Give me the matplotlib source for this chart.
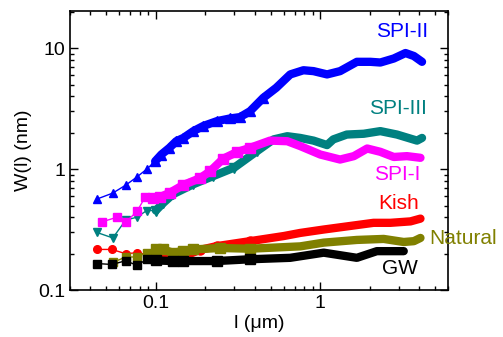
import numpy as np
import matplotlib
matplotlib.use("Agg")
import matplotlib.pyplot as plt
from matplotlib.ticker import LogLocator, NullFormatter, FixedFormatter, FixedLocator

plt.rcParams["font.family"] = ["Liberation Sans", "DejaVu Sans"]

# ---------------------------------------------------------------- data
spi2_x = [0.0437, 0.0547, 0.0656, 0.0766, 0.088, 0.099, 0.108, 0.121, 0.133, 0.147,
          0.169, 0.194, 0.235, 0.282, 0.325, 0.374, 0.45, 0.54, 0.657, 0.79,
          0.91, 1.10, 1.32, 1.67, 2.02, 2.32, 2.80, 3.30, 3.71, 4.16]
spi2_y = [0.565, 0.634, 0.738, 0.86, 1.0, 1.16, 1.32, 1.50, 1.70, 1.81,
          2.06, 2.27, 2.49, 2.62, 2.69, 3.01, 3.88, 4.70, 6.06, 6.56,
          6.45, 6.06, 6.45, 7.7, 7.7, 7.6, 8.2, 9.1, 8.6, 7.7]

spi3_x = [0.0437, 0.0547, 0.0656, 0.0766, 0.088, 0.1, 0.11, 0.127, 0.169, 0.223,
          0.30, 0.41, 0.52, 0.63, 0.755, 0.91, 1.10, 1.20, 1.45, 1.84,
          2.32, 2.93, 3.88, 4.16]
spi3_y = [0.30, 0.27, 0.38, 0.40, 0.455, 0.455, 0.52, 0.62, 0.75, 0.875,
          1.03, 1.40, 1.76, 1.87, 1.81, 1.72, 1.58, 1.76, 1.93, 1.96,
          2.06, 1.93, 1.72, 1.81]

spi1_x = [0.047, 0.058, 0.066, 0.077, 0.086, 0.096, 0.106, 0.122, 0.147, 0.185,
          0.214, 0.257, 0.31, 0.374, 0.495, 0.63, 0.755, 1.0, 1.32, 1.6,
          1.93, 2.32, 2.80, 3.37, 4.07]
spi1_y = [0.367, 0.40, 0.367, 0.45, 0.587, 0.58, 0.587, 0.64, 0.74, 0.84,
          0.96, 1.22, 1.38, 1.50, 1.72, 1.70, 1.55, 1.32, 1.20, 1.28,
          1.48, 1.39, 1.26, 1.28, 1.24]

kish_x = [0.0437, 0.054, 0.0656, 0.077, 0.088, 0.1, 0.11, 0.147, 0.185, 0.234,
          0.374, 0.60, 0.755, 1.05, 1.67, 2.11, 2.67, 3.54, 4.07]
kish_y = [0.217, 0.217, 0.20, 0.204, 0.197, 0.188, 0.186, 0.19, 0.215, 0.231,
          0.254, 0.28, 0.297, 0.317, 0.345, 0.36, 0.36, 0.37, 0.39]

nat_x = [0.055, 0.0656, 0.077, 0.088, 0.1, 0.11, 0.127, 0.147, 0.169, 0.246,
         0.374, 0.755, 1.05, 1.67, 2.43, 3.22, 3.71, 4.07]
nat_y = [0.17, 0.188, 0.188, 0.204, 0.217, 0.217, 0.204, 0.21, 0.217, 0.223,
         0.22, 0.23, 0.247, 0.26, 0.265, 0.25, 0.254, 0.27]

gw_x = [0.0437, 0.054, 0.0656, 0.077, 0.088, 0.1, 0.127, 0.147, 0.234, 0.374,
        0.656, 1.05, 1.67, 2.21, 3.22]
gw_y = [0.166, 0.163, 0.175, 0.16, 0.18, 0.176, 0.174, 0.174, 0.174, 0.18,
        0.185, 0.204, 0.185, 0.21, 0.21]

names = ["SPI-II", "SPI-III", "SPI-I", "Kish", "Natural", "GW"]
label_x = [3.16, 2.95, 2.95, 2.99, 7.34, 3.07]
label_y = [13.8, 3.19, 0.91, 0.524, 0.269, 0.152]

y_ticks = [0.1, 1, 10]
y_tick_labels = ["0.1", "1", "10"]
x_ticks = [0.1, 1]
x_tick_labels = ["0.1", "1"]

# ---------------------------------------------------------------- style
colors = ["#0000ff", "#008080", "#ff00ff", "#ff0000", "#808000", "#000000"]
markers = ["^", "v", "s", "o", "s", "s"]
DENSE_FROM = 0.1   # markers merge into a solid band beyond this l
TEXTURE_TO = 0.45  # overlapping markers still show at the band edge up to here

series = [(spi2_x, spi2_y), (spi3_x, spi3_y), (spi1_x, spi1_y),
          (kish_x, kish_y), (nat_x, nat_y), (gw_x, gw_y)]

fig = plt.figure(figsize=(5.03, 3.37), dpi=100)
ax = fig.add_axes([0.139, 0.139, 0.752, 0.828])

for (x, y), c, m in zip(series, colors, markers):
    x = np.asarray(x)
    y = np.asarray(y)
    sparse = x <= DENSE_FROM + 1e-9
    dense = x >= x[sparse].max() - 1e-9
    ax.plot(x[sparse], y[sparse], color=c, lw=1.0, marker=m, ms=5.5,
            mec=c, mfc=c, zorder=3)
    ax.plot(x[dense], y[dense], color=c, lw=6.0, solid_capstyle="round",
            solid_joinstyle="round", zorder=3)
    tex = dense & (x <= TEXTURE_TO)
    ax.plot(x[tex], y[tex], ls="none", marker=m, ms=6.5, mec=c, mfc=c,
            zorder=3)

for n, lx, ly, c in zip(names, label_x, label_y, colors):
    ax.text(lx, ly, n, color=c, fontsize=15, ha="center", va="center",
            clip_on=False)

ax.set_xscale("log")
ax.set_yscale("log")
ax.set_xlim(0.03, 6.0)
ax.set_ylim(0.1, 20.2)

ax.xaxis.set_major_locator(FixedLocator(x_ticks))
ax.xaxis.set_major_formatter(FixedFormatter(x_tick_labels))
ax.yaxis.set_major_locator(FixedLocator(y_ticks))
ax.yaxis.set_major_formatter(FixedFormatter(y_tick_labels))
ax.xaxis.set_minor_locator(LogLocator(base=10, subs=np.arange(2, 10)))
ax.yaxis.set_minor_locator(LogLocator(base=10, subs=np.arange(2, 10)))
ax.xaxis.set_minor_formatter(NullFormatter())
ax.yaxis.set_minor_formatter(NullFormatter())

ax.tick_params(which="both", direction="in", top=True, right=True,
               labelsize=14, width=1)
ax.tick_params(which="major", length=6)
ax.tick_params(which="minor", length=3)
for s in ax.spines.values():
    s.set_linewidth(1.2)

ax.set_xlabel("l (μm)", fontsize=14, labelpad=2)
ax.set_ylabel("W(l) (nm)", fontsize=14, labelpad=4)

fig.savefig("out.png", dpi=100)
